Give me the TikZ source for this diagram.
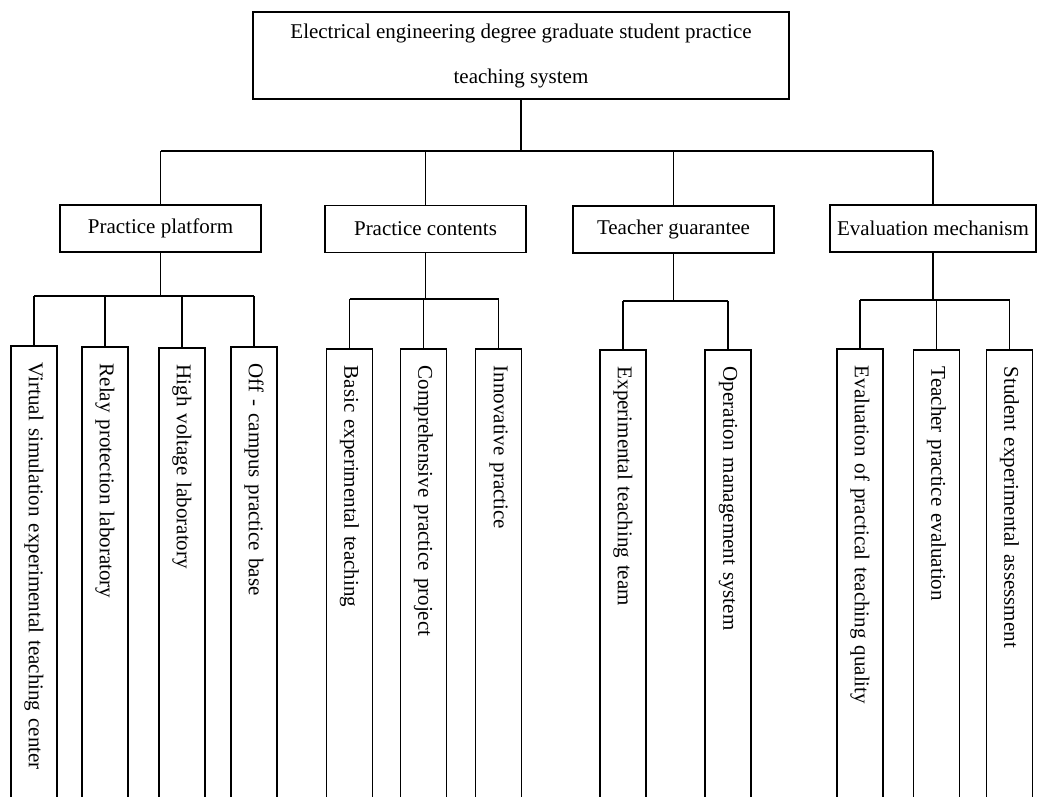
\documentclass[tikz,border=0pt]{standalone}
\usepackage{fontspec}
\setmainfont{Liberation Serif}
\begin{document}
\begin{tikzpicture}[x=1pt,y=-1pt,
  box/.style={draw, line width=1.6pt, inner sep=0pt, font=\fontsize{21}{25}\selectfont},
  rootbox/.style={box, minimum width=536pt, minimum height=87pt, align=center, font=\fontsize{21}{45}\selectfont},
  midbox/.style={box, minimum width=201pt, minimum height=47pt},
  leaf/.style={box, rotate=-90, anchor=west, minimum width=470pt, minimum height=46pt,
    text width=436pt, inner xsep=17pt, align=left},
  conn/.style={draw, line width=1.6pt}
]
\useasboundingbox (0,0) rectangle (1038,796);
\clip (0,0) rectangle (1038,796);
\fill[white] (0,0) rectangle (1038,796);

% root
\node[rootbox] (root) at (521,55.5) {Electrical engineering degree graduate student practice\\teaching system};

% level 2
\node[midbox] (pp) at (160.5,228.5) {Practice platform};
\node[midbox] (pc) at (425.5,229) {Practice contents};
\node[midbox] (tg) at (673.5,229.5) {Teacher guarantee};
\node[midbox, minimum width=206pt] (em) at (933,228.5) {Evaluation mechanism};

% leaves
\node[leaf] (a1) at (34,345) {Virtual simulation experimental teaching center};
\node[leaf] (a2) at (105,346) {Relay protection laboratory};
\node[leaf] (a3) at (182,347) {High voltage laboratory};
\node[leaf] (a4) at (254,346) {Off - campus practice base};
\node[leaf] (b1) at (349.5,348) {Basic experimental teaching};
\node[leaf] (b2) at (423.5,348) {Comprehensive practice project};
\node[leaf] (b3) at (498.5,348) {Innovative practice};
\node[leaf] (c1) at (623,349) {Experimental teaching team};
\node[leaf] (c2) at (728,349) {Operation management system};
\node[leaf] (d1) at (860,348) {Evaluation of practical teaching quality};
\node[leaf] (d2) at (936.5,349) {Teacher practice evaluation};
\node[leaf] (d3) at (1009.5,349) {Student experimental assessment};

% root to level 2
\coordinate (b0) at (520,151);
\draw[conn] (root.south) -- (root.south |- b0);
\draw[conn] (pp.north |- b0) -- (em.north |- b0);
\foreach \n in {pp,pc,tg,em} \draw[conn] (\n.north |- b0) -- (\n.north);

% level 2 to leaves
\coordinate (ba) at (0,296);
\draw[conn] (pp.south) -- (pp.south |- ba);
\draw[conn] (a1.west |- ba) -- (a4.west |- ba);
\foreach \n in {a1,a2,a3,a4} \draw[conn] (\n.west |- ba) -- (\n.west);

\coordinate (bb) at (0,299);
\draw[conn] (pc.south) -- (pc.south |- bb);
\draw[conn] (b1.west |- bb) -- (b3.west |- bb);
\foreach \n in {b1,b2,b3} \draw[conn] (\n.west |- bb) -- (\n.west);

\coordinate (bc) at (0,301);
\draw[conn] (tg.south) -- (tg.south |- bc);
\draw[conn] (c1.west |- bc) -- (c2.west |- bc);
\foreach \n in {c1,c2} \draw[conn] (\n.west |- bc) -- (\n.west);

\coordinate (bd) at (0,300);
\draw[conn] (em.south) -- (em.south |- bd);
\draw[conn] (d1.west |- bd) -- (d3.west |- bd);
\foreach \n in {d1,d2,d3} \draw[conn] (\n.west |- bd) -- (\n.west);
\end{tikzpicture}
\end{document}
